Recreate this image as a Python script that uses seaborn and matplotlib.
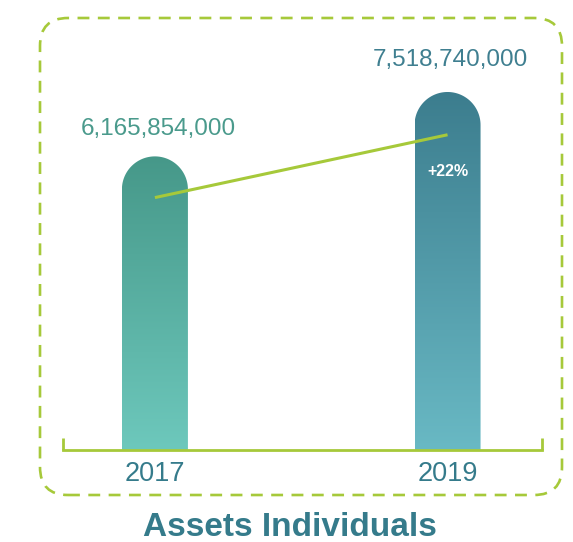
import numpy as np
import matplotlib
matplotlib.use("Agg")
import matplotlib.pyplot as plt
import seaborn as sns
from matplotlib.colors import LinearSegmentedColormap
from matplotlib.patches import FancyBboxPatch, PathPatch
from matplotlib.path import Path

# data
years = ["2017", "2019"]
values = [6165854000, 7518740000]
value_labels = ["6,165,854,000", "7,518,740,000"]
trend = [5.3e9, 6.62e9]
growth_label = "+22%"
growth_y = 5.84e9
title = "Assets Individuals"

# colours
green = "#a6c93a"
teal_text = "#357b8b"
label_colors = ["#4a9a8c", "#3f7f90"]
bar_top = ["#469889", "#3c7d8e"]
bar_bottom = ["#6dc8bc", "#69b9c4"]

sns.set_style("white")
plt.rcParams["font.family"] = ["Liberation Sans", "DejaVu Sans"]

fig = plt.figure(figsize=(5.73, 5.42), dpi=100)
ax = fig.add_axes([0.110, 0.170, 0.836, 0.793])

sns.barplot(x=years, y=values, ax=ax, width=0.2256, color="white")
ax.set_xlim(-0.314, 1.323)
ax.set_ylim(0, 9.03e9)

# pixel -> data scale for the rounded caps
fig.canvas.draw()
px_per_y = ax.transData.transform((0, 1e9))[1] - ax.transData.transform((0, 0))[1]
px_per_x = ax.transData.transform((1, 0))[0] - ax.transData.transform((0, 0))[0]

label_offsets = [27, 32]
for i, p in enumerate(ax.patches):
    x0, w, h = p.get_x(), p.get_width(), p.get_height()
    p.set_visible(False)
    rx = w / 2
    ry = rx * px_per_x / px_per_y * 1e9
    cx = x0 + rx
    th = np.linspace(0, np.pi, 60)
    verts = [(x0, 0), (x0 + w, 0), (x0 + w, h - ry)]
    verts += list(zip(cx + rx * np.cos(th), h - ry + ry * np.sin(th)))
    verts += [(x0, 0)]
    codes = [Path.MOVETO] + [Path.LINETO] * (len(verts) - 2) + [Path.CLOSEPOLY]
    clip = PathPatch(Path(verts, codes), transform=ax.transData, fc="none", ec="none")
    ax.add_patch(clip)
    cmap = LinearSegmentedColormap.from_list("g%d" % i, [bar_bottom[i], bar_top[i]])
    grad = np.linspace(0, 1, 256).reshape(-1, 1)
    im = ax.imshow(grad, cmap=cmap, origin="lower", aspect="auto",
                   extent=(x0, x0 + w, 0, h), zorder=2)
    im.set_clip_path(clip)
    ax.text(cx + 0.01, h + label_offsets[i] / px_per_y * 1e9, value_labels[i],
            ha="center", va="center", fontsize=17.5, color=label_colors[i])

ax.set_xlim(-0.314, 1.323)
ax.set_ylim(0, 9.03e9)

# trend line and growth label
ax.plot([0, 1], trend, color=green, lw=2.2, zorder=3, solid_capstyle="butt")
ax.text(1, growth_y, growth_label, ha="center", va="center", color="white",
        fontsize=11.5, fontweight="bold", zorder=4)

# axis styling
sns.despine(ax=ax, left=True, top=True, right=True)
ax.spines["bottom"].set_color(green)
ax.spines["bottom"].set_linewidth(2)
ax.set_yticks([])
ax.tick_params(axis="x", length=0, pad=8, labelsize=19.5, labelcolor=teal_text)
for xa in (0, 1):
    ax.plot([xa, xa], [0, 0.028], transform=ax.transAxes, color=green, lw=2,
            clip_on=False, solid_capstyle="butt")

# dashed rounded frame
frame = FancyBboxPatch((0.40, 0.47), 5.22, 4.77, boxstyle="round,pad=0,rounding_size=0.28",
                       transform=fig.dpi_scale_trans, fc="none", ec=green, lw=1.9,
                       linestyle=(0, (4.5, 3.2)))
fig.add_artist(frame)

fig.text(0.506, 0.026, title, ha="center", va="center", fontsize=24, fontweight="bold",
         color=teal_text)

fig.savefig("out.png", dpi=100)
